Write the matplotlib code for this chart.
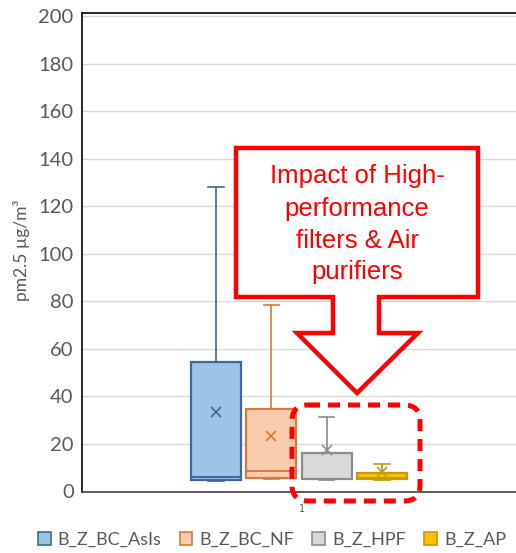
import matplotlib
matplotlib.use("Agg")
import matplotlib.pyplot as plt
from matplotlib.patches import Polygon, FancyBboxPatch, Patch
from matplotlib.transforms import Affine2D, ScaledTranslation

# ---- data (summary statistics) ----
series = ["B_Z_BC_AsIs", "B_Z_BC_NF", "B_Z_HPF", "B_Z_AP"]
whis_lo = [4.6, 5.3, 4.7, 5.0]
q1 = [4.9, 5.6, 5.1, 5.1]
median = [6.3, 8.5, 5.3, 5.5]
q3 = [54.4, 34.8, 16.1, 7.7]
whis_hi = [127.9, 78.3, 31.4, 11.5]
means = [33.4, 23.3, 17.3, 8.0]
category = "1"
y_ticks = [0, 20, 40, 60, 80, 100, 120, 140, 160, 180, 200]

fills = ["#9DC3E6", "#F8CBAD", "#D9D9D9", "#FFC000"]
edges = ["#3D6A98", "#D57A3C", "#8C8C8C", "#C49A10"]

W, H = 516, 553
fig = plt.figure(figsize=(W / 100, H / 100), dpi=100)
ax = fig.add_axes([82 / W, (H - 491.5) / H, (W - 82) / W, (491.5 - 12.7) / H])

spacing = 0.1274
width = 0.115
for i in range(4):
    pos = 1 + (i - 1.5) * spacing
    st = dict(med=median[i], q1=q1[i], q3=q3[i], whislo=whis_lo[i],
              whishi=whis_hi[i], mean=means[i], fliers=[], label=series[i])
    ax.bxp([st], positions=[pos], widths=width, showmeans=True, patch_artist=True,
           capwidths=0.035,
           boxprops=dict(facecolor=fills[i], edgecolor=edges[i], linewidth=1.6),
           medianprops=dict(color=edges[i], linewidth=1.4),
           whiskerprops=dict(color=edges[i], linewidth=1.2),
           capprops=dict(color=edges[i], linewidth=1.2),
           meanprops=dict(marker="x", markeredgecolor=edges[i], markersize=7,
                          markeredgewidth=1.2, linestyle="none"),
           manage_ticks=False)

ax.set_xlim(0.5, 1.5)
ax.set_ylim(0, 201.4)
ax.set_yticks(y_ticks)
ax.set_xticks([1.0])
ax.set_xticklabels([category], fontsize=7, color="#595959")
ax.tick_params(axis="y", length=0, labelsize=14.5, labelcolor="#595959", pad=6)
ax.tick_params(axis="x", length=0, pad=9)
for lab in ax.get_xticklabels():
    lab.set_transform(lab.get_transform() + ScaledTranslation(0.03, 0, fig.dpi_scale_trans))
for lab in ax.get_yticklabels():
    lab.set_fontfamily("Lato")
ax.grid(axis="y", color="#D9D9D9", linewidth=1)
ax.set_axisbelow(True)
ax.spines["right"].set_visible(False)
ax.spines["top"].set_color("black")
ax.spines["left"].set_color("black")
ax.spines["bottom"].set_color("#404040")
for s in ["top", "left", "bottom"]:
    ax.spines[s].set_linewidth(1.2)

fig.text(22 / W, 1 - 250 / H, "pm2.5 µg/m³", rotation=90, ha="center", va="center",
         fontsize=12.5, color="#595959", family="Lato")

# ---- annotation (figure pixel coordinates, origin top-left) ----
px = Affine2D().scale(1 / W, -1 / H).translate(0, 1) + fig.transFigure
callout = [(236, 148), (478, 148), (478, 297), (379, 297), (379, 333), (418, 333),
           (357, 393), (297, 333), (333, 333), (333, 297), (236, 297)]
fig.patches.append(Polygon(callout, closed=True, facecolor="white", edgecolor="#FF0000",
                           linewidth=3.2, joinstyle="miter", transform=px))
for txt, yy in zip(["Impact of High-", "performance", "filters & Air", "purifiers"],
                   [176, 209, 241, 272]):
    fig.text(357 / W, 1 - yy / H, txt, ha="center", va="center", color="#FF0000",
             fontsize=18.5, family="Liberation Sans")

fig.patches.append(FancyBboxPatch((292, 405), 128, 96, boxstyle="round,pad=0,rounding_size=16",
                                  facecolor="none", edgecolor="#FF0000", linewidth=3.6,
                                  linestyle=(0, (2.4, 1.6)), transform=px))

handles = [Patch(facecolor=fills[i], edgecolor=edges[i], linewidth=1.2, label=series[i])
           for i in range(4)]
fig.legend(handles=handles, loc="center", bbox_to_anchor=(0.527, 1 - 540 / H), ncol=4,
           frameon=False, handlelength=0.7, handleheight=0.7, handletextpad=0.4,
           columnspacing=1.0, prop=dict(family="Lato", size=13), labelcolor="#595959")

fig.savefig("out.png", dpi=100)
